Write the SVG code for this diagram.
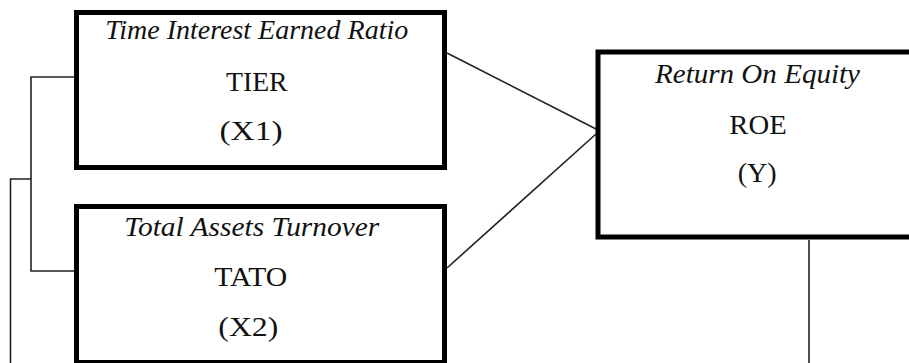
<svg xmlns="http://www.w3.org/2000/svg" width="909" height="363" viewBox="0 0 909 363">
<style>
.box{fill:#fff;stroke:#000;stroke-width:5}
.ln{fill:none;stroke:#222;stroke-width:1.6}
text{font-family:"Liberation Serif","Times New Roman",serif;font-size:27px;fill:#111;text-anchor:middle}
.it{font-style:italic}
</style>
<rect width="909" height="363" fill="#fff"/>
<g id="connectors">
<line class="ln" x1="447" y1="53" x2="596" y2="129"/>
<line class="ln" x1="447" y1="268" x2="596" y2="134"/>
<line class="ln" x1="809" y1="240" x2="809" y2="363"/>
<polyline class="ln" points="74,77 31,77 31,271 74,271"/>
<polyline class="ln" points="31,179 10.5,179 10.5,363"/>
</g>
<g id="tier">
<rect class="box" x="76.5" y="12.5" width="368" height="155"/>
<text class="it" x="256.7" y="39" textLength="303" lengthAdjust="spacingAndGlyphs">Time Interest Earned Ratio</text>
<text x="256.8" y="91" textLength="61.7" lengthAdjust="spacingAndGlyphs">TIER</text>
<text x="251" y="140" textLength="63" lengthAdjust="spacingAndGlyphs">(X1)</text>
</g>
<g id="tato">
<rect class="box" x="76.5" y="206.5" width="368" height="156"/>
<text class="it" x="251.8" y="236" textLength="255" lengthAdjust="spacingAndGlyphs">Total Assets Turnover</text>
<text x="250.8" y="286" textLength="73" lengthAdjust="spacingAndGlyphs">TATO</text>
<text x="248.3" y="336" textLength="60" lengthAdjust="spacingAndGlyphs">(X2)</text>
</g>
<g id="roe">
<rect class="box" x="598" y="52" width="400" height="185"/>
<text class="it" x="757.5" y="82.7" textLength="205" lengthAdjust="spacingAndGlyphs">Return On Equity</text>
<text x="758" y="134" textLength="57.4" lengthAdjust="spacingAndGlyphs">ROE</text>
<text x="757.2" y="182" textLength="39" lengthAdjust="spacingAndGlyphs">(Y)</text>
</g>
</svg>
